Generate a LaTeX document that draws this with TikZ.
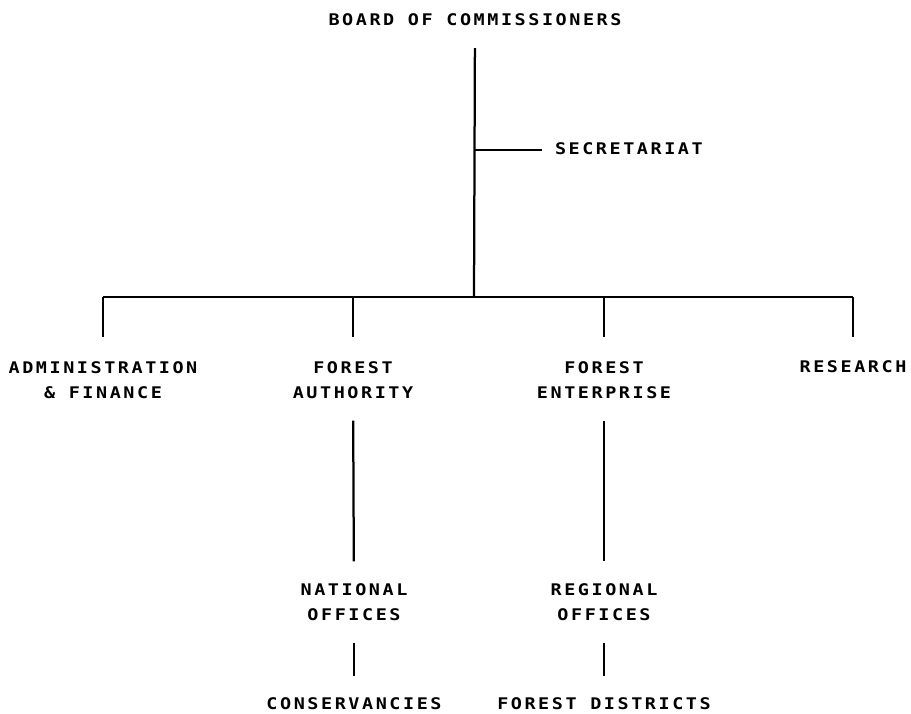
\documentclass[tikz,border=0pt]{standalone}
\usepackage{fontspec}
\newfontfamily\plotfont[LetterSpace=16,FakeStretch=1.15]{DejaVu Sans Mono}
\usetikzlibrary{calc}

\begin{document}
\begin{tikzpicture}[x=0.025cm,y=-0.025cm,line width=1.6pt,
                unit/.style={inner sep=0pt,outer sep=0pt,align=center,
                  font=\plotfont\bfseries\fontsize{11.4}{18}\selectfont},
                link/.style={shorten <=0.55cm,shorten >=0.55cm}]

            \useasboundingbox (0,0) rectangle (911,713);

            \node[unit] (board) at (475,20) {BOARD OF COMMISSIONERS};
            \node[unit, anchor=west] (secr) at (555,149) {SECRETARIAT};

            \node[unit] (admin) at (103,380) {ADMINISTRATION\\\& FINANCE};
            \node[unit] (fauth) at (353,380) {FOREST\\AUTHORITY};
            \node[unit] (fent) at (604,380) {FOREST\\ENTERPRISE};
            \node[unit] (research) at (853,367) {RESEARCH};

            \node[unit] (natoff) at (354,602) {NATIONAL\\OFFICES};
            \node[unit] (regoff) at (604,602) {REGIONAL\\OFFICES};
            \node[unit] (cons) at (354,704) {CONSERVANCIES};
            \node[unit] (fdist) at (604,704) {FOREST DISTRICTS};

            \coordinate (bus) at (474,297);
            \coordinate (tap) at (474,150);

            % trunk and secretariat
            \draw[shorten <=0.55cm] (board) -- (bus);
            \draw[shorten >=0.33cm] (tap) -- (tap -| secr.west);

            % divisions
            \draw (bus -| admin) -- (bus -| research);
            \foreach \d in {admin,fauth,fent,research}
                \draw[shorten >=0.6cm] (bus -| \d) -- (\d);

            % lower levels
            \draw[link] (fauth) -- (natoff);
            \draw[link] (natoff) -- (cons);
            \draw[link] (fent) -- (regoff);
            \draw[link] (regoff) -- (fdist);

        \end{tikzpicture}
\end{document}
